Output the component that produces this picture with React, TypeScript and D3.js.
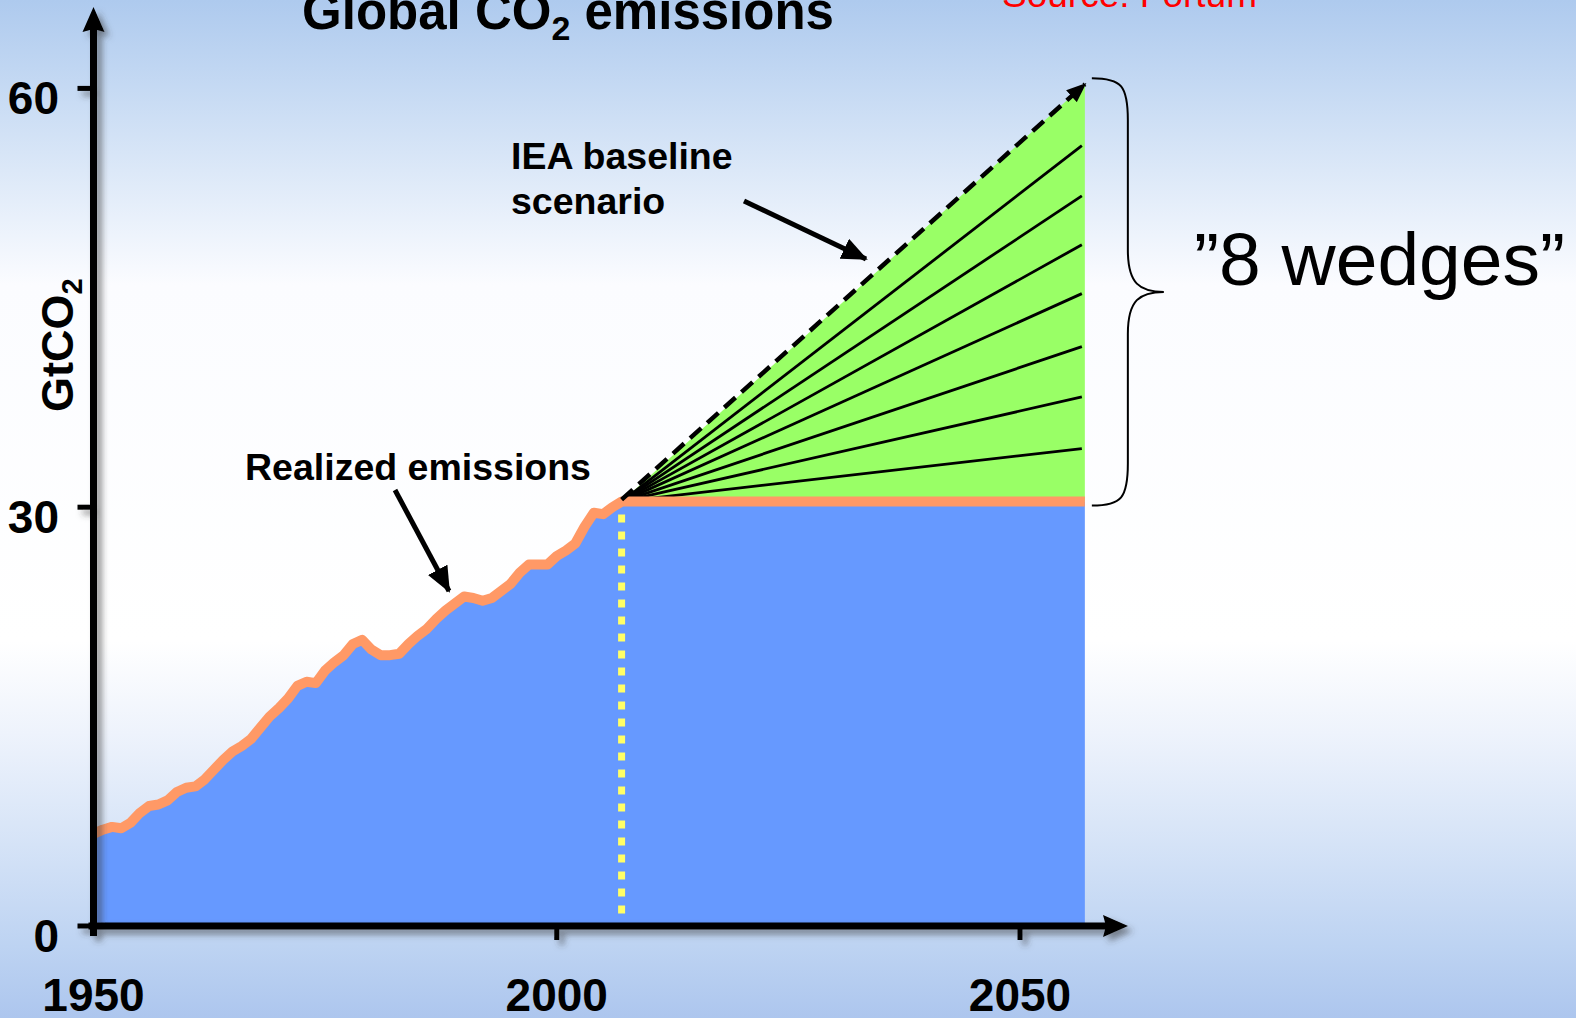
import React from "react";
import * as d3 from "d3";

const W = 1576;
const H = 1018;

// Realized global CO2 emissions, GtCO2 per year
const realizedYears = [
  1950, 1951, 1952, 1953, 1954, 1955, 1956, 1957, 1958, 1959,
  1960, 1961, 1962, 1963, 1964, 1965, 1966, 1967, 1968, 1969,
  1970, 1971, 1972, 1973, 1974, 1975, 1976, 1977, 1978, 1979,
  1980, 1981, 1982, 1983, 1984, 1985, 1986, 1987, 1988, 1989,
  1990, 1991, 1992, 1993, 1994, 1995, 1996, 1997, 1998, 1999,
  2000, 2001, 2002, 2003, 2004, 2005, 2006, 2007,
];
const realizedValues = [
  6.6, 6.9, 7.1, 7.0, 7.4, 8.1, 8.6, 8.7, 9.0, 9.6,
  9.9, 10.0, 10.5, 11.2, 11.9, 12.5, 12.9, 13.4, 14.2, 15.0,
  15.6, 16.3, 17.2, 17.5, 17.4, 18.3, 18.9, 19.4, 20.2, 20.5,
  19.8, 19.4, 19.4, 19.5, 20.2, 20.8, 21.3, 22.0, 22.6, 23.1,
  23.6, 23.5, 23.3, 23.5, 24.0, 24.5, 25.3, 25.9, 25.9, 25.9,
  26.5, 26.9, 27.4, 28.6, 29.6, 29.5, 30.0, 30.4,
];

// Stabilisation scenario: emissions held flat from the start year to the end year
const scenarioStartYear = 2007;
const scenarioEndYear = 2057;
const flatLevel = 30.4;

// Wedge boundaries at the end year (the last one is the IEA baseline)
const wedgeEndValues = [34.2, 37.9, 41.5, 45.3, 48.8, 52.3, 55.9];
const baselineEndValue = 60.3;

const yTicks = [0, 30, 60];
const xTicks = [1950, 2000, 2050];
const xMinorTicks = [2000, 2050];

const FONT = "'Liberation Sans', Arial, Helvetica, sans-serif";

type Pt = { year: number; v: number };

export default function App() {
  const x = d3.scaleLinear().domain([1950, 2050]).range([93.5, 1020]);
  const y = d3.scaleLinear().domain([0, 60]).range([926, 88.4]);

  const realized: Pt[] = realizedYears.map((year, i) => ({ year, v: realizedValues[i] }));
  const emissions: Pt[] = [...realized, { year: scenarioEndYear, v: flatLevel }];

  const area = d3
    .area<Pt>()
    .x((d) => x(d.year))
    .y0(y(0))
    .y1((d) => y(d.v));
  const line = d3
    .line<Pt>()
    .x((d) => x(d.year))
    .y((d) => y(d.v))
    .curve(d3.curveLinear);

  const wedgeArea: Pt[] = [
    { year: scenarioStartYear, v: flatLevel },
    { year: scenarioEndYear, v: baselineEndValue },
    { year: scenarioEndYear, v: flatLevel },
  ];

  const x0 = x(scenarioStartYear);
  const yStart = y(flatLevel);
  const xEnd = x(scenarioEndYear);

  // brace geometry on the right of the wedges
  const bTop = y(baselineEndValue) - 6;
  const bBot = y(flatLevel) + 4;
  const bMid = (bTop + bBot) / 2;
  const bx0 = xEnd + 7;
  const bxv = bx0 + 36;
  const bxt = bx0 + 72;
  const braceR = 42;
  const bracePath = [
    `M${bx0},${bTop}`,
    `C${bx0 + 30},${bTop} ${bxv},${bTop + 8} ${bxv},${bTop + braceR}`,
    `L${bxv},${bMid - braceR}`,
    `C${bxv},${bMid - 8} ${bxv + 12},${bMid} ${bxt},${bMid}`,
    `C${bxv + 12},${bMid} ${bxv},${bMid + 8} ${bxv},${bMid + braceR}`,
    `L${bxv},${bBot - braceR}`,
    `C${bxv},${bBot - 8} ${bx0 + 30},${bBot} ${bx0},${bBot}`,
  ].join(" ");

  const axisY0 = y(0);
  const axisX0 = x(1950);

  return (
    <div style={{ position: "absolute", left: 0, top: 0, width: W, height: H }}>
      <svg width={W} height={H} style={{ display: "block" }}>
        <defs>
          <linearGradient id="bg" x1="0" y1="0" x2="0" y2="1">
            <stop offset="0" stopColor="#aecaee" />
            <stop offset="0.1" stopColor="#c9dcf4" />
            <stop offset="0.2" stopColor="#e5eefa" />
            <stop offset="0.28" stopColor="#fbfcff" />
            <stop offset="0.63" stopColor="#ffffff" />
            <stop offset="0.72" stopColor="#eef3fc" />
            <stop offset="0.83" stopColor="#d5e3f7" />
            <stop offset="0.93" stopColor="#bdd3f2" />
            <stop offset="1" stopColor="#adc6ee" />
          </linearGradient>
          <filter id="axisShadow" x="-20%" y="-20%" width="140%" height="140%">
            <feDropShadow dx="5" dy="5" stdDeviation="3" floodColor="#3a3a3a" floodOpacity="0.55" />
          </filter>
          <marker
            id="dashHead"
            viewBox="0 0 20 16"
            refX="18"
            refY="8"
            markerWidth="20"
            markerHeight="16"
            markerUnits="userSpaceOnUse"
            orient="auto"
          >
            <path d="M0,0 L20,8 L0,16 z" fill="#000" />
          </marker>
          <marker
            id="noteHead"
            viewBox="0 0 26 22"
            refX="24"
            refY="11"
            markerWidth="26"
            markerHeight="22"
            markerUnits="userSpaceOnUse"
            orient="auto"
          >
            <path d="M0,0 L26,11 L0,22 z" fill="#000" />
          </marker>
        </defs>

        <rect x={0} y={0} width={W} height={H} fill="url(#bg)" />

        {/* realized + flat emissions area */}
        <path d={area(emissions) ?? ""} fill="#6699ff" />

        {/* wedge triangle up to the baseline */}
        <path d={(line(wedgeArea) ?? "") + "Z"} fill="#99ff66" />

        {/* wedge dividers */}
        {wedgeEndValues.map((v) => (
          <line
            key={v}
            x1={x0}
            y1={yStart}
            x2={xEnd - 3}
            y2={y(v)}
            stroke="#000"
            strokeWidth={2.8}
          />
        ))}

        {/* emissions line */}
        <path
          d={line(emissions) ?? ""}
          fill="none"
          stroke="#ff9966"
          strokeWidth={10}
          strokeLinejoin="round"
        />

        {/* start of scenario marker */}
        <line
          x1={x0}
          y1={yStart + 13}
          x2={x0}
          y2={axisY0 - 8}
          stroke="#ffff66"
          strokeWidth={7}
          strokeDasharray="8 9"
        />

        {/* IEA baseline dashed arrow */}
        <line
          x1={x0}
          y1={yStart - 2}
          x2={xEnd}
          y2={y(baselineEndValue)}
          stroke="#000"
          strokeWidth={4.5}
          strokeDasharray="15 8"
          markerEnd="url(#dashHead)"
        />

        {/* axes */}
        <g filter="url(#axisShadow)">
          <line x1={axisX0} y1={axisY0 + 10} x2={axisX0} y2={28} stroke="#000" strokeWidth={7} />
          <path
            d={`M${axisX0 - 11},${32} L${axisX0},${7} L${axisX0 + 11},${32} L${axisX0},${29} Z`}
            fill="#000"
          />
          <line x1={axisX0 - 5} y1={axisY0} x2={1110} y2={axisY0} stroke="#000" strokeWidth={7} />
          <path
            d={`M${1103},${axisY0 - 11} L${1128},${axisY0} L${1103},${axisY0 + 11} L${1106},${axisY0} Z`}
            fill="#000"
          />
          {yTicks.map((t) => (
            <line
              key={"yt" + t}
              x1={axisX0 - 16}
              y1={y(t)}
              x2={axisX0}
              y2={y(t)}
              stroke="#000"
              strokeWidth={5}
            />
          ))}
          {xMinorTicks.map((t) => (
            <line
              key={"xt" + t}
              x1={x(t)}
              y1={axisY0}
              x2={x(t)}
              y2={axisY0 + 14}
              stroke="#000"
              strokeWidth={5}
            />
          ))}
        </g>

        {/* tick labels */}
        <g fontFamily={FONT} fontWeight="bold" fontSize={46} fill="#000">
          {yTicks.map((t) => (
            <text key={"yl" + t} x={59} y={y(t) + 26} textAnchor="end">
              {t}
            </text>
          ))}
          {xTicks.map((t) => (
            <text key={"xl" + t} x={x(t)} y={1011} textAnchor="middle">
              {t}
            </text>
          ))}
        </g>

        {/* y axis title */}
        <text
          transform="translate(73,412) rotate(-90)"
          fontFamily={FONT}
          fontWeight="bold"
          fontSize={45}
          fill="#000"
        >
          GtCO
          <tspan fontSize={29} dy={9}>
            2
          </tspan>
        </text>

        {/* chart title */}
        <text
          x={568}
          y={29}
          textAnchor="middle"
          fontFamily={FONT}
          fontWeight="bold"
          fontSize={51}
          fill="#000"
        >
          Global CO
          <tspan fontSize={34} dy={11}>
            2
          </tspan>
          <tspan dy={-11}> emissions</tspan>
        </text>

        <text x={1002} y={7} fontFamily={FONT} fontSize={37} fill="#ff0000">
          Source: Fortum
        </text>

        {/* annotations */}
        <g fontFamily={FONT} fontWeight="bold" fontSize={37.5} fill="#000">
          <text x={511} y={169}>IEA baseline</text>
          <text x={511} y={214}>scenario</text>
          <text x={245} y={480}>Realized emissions</text>
        </g>
        <line
          x1={744}
          y1={201}
          x2={866}
          y2={259}
          stroke="#000"
          strokeWidth={5}
          markerEnd="url(#noteHead)"
        />
        <line
          x1={395}
          y1={490}
          x2={449}
          y2={591}
          stroke="#000"
          strokeWidth={5}
          markerEnd="url(#noteHead)"
        />

        <path d={bracePath} fill="none" stroke="#000" strokeWidth={2} />
        <text x={1194} y={285} fontFamily={FONT} fontSize={75} fill="#000">
          ”8 wedges”
        </text>
      </svg>
    </div>
  );
}
